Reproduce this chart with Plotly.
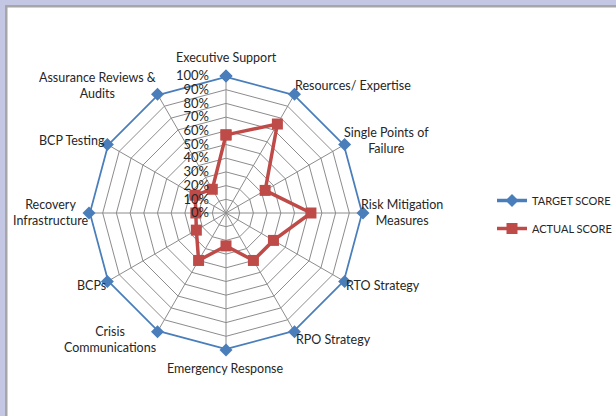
import plotly.graph_objects as go

categories = ["Executive Support", "Resources/ Expertise", "Single Points of Failure",
              "Risk Mitigation Measures", "RTO Strategy", "RPO Strategy",
              "Emergency Response", "Crisis Communications", "BCPs",
              "Recovery Infrastructure", "BCP Testing", "Assurance Reviews & Audits"]
category_labels = ["Executive Support", "Resources/ Expertise", "Single Points of<br>Failure",
                   "Risk Mitigation<br>Measures", "RTO Strategy", "RPO Strategy",
                   "Emergency Response", "Crisis<br>Communications", "BCPs",
                   "Recovery<br>Infrastructure", "BCP Testing", "Assurance Reviews &<br>Audits"]
target_score = [1.0] * 12
actual_score = [0.57, 0.75, 0.33, 0.62, 0.40, 0.40, 0.24, 0.40, 0.25, 0.22, 0.26, 0.20]
radial_ticks = [0, 0.1, 0.2, 0.3, 0.4, 0.5, 0.6, 0.7, 0.8, 0.9, 1.0]

BLUE = "#4A7EBB"
RED = "#BE4B48"
FONT = "Lato"
TXT = "#262626"

def closed(v):
    return list(v) + [v[0]]

fig = go.Figure()
fig.add_trace(go.Scatterpolar(
    r=closed(target_score), theta=closed(categories), name="TARGET SCORE",
    mode="lines+markers", line=dict(color=BLUE, width=3.5),
    marker=dict(symbol="diamond", size=10, color=BLUE), legendgroup="a"))
fig.add_trace(go.Scatterpolar(
    r=closed(actual_score), theta=closed(categories), name="ACTUAL SCORE",
    mode="lines+markers", line=dict(color=RED, width=3.5),
    marker=dict(symbol="square", size=11, color=RED), legendgroup="b"))

W, H = 616, 416
cx, cy, R = 226, 213, 137

# label placement (pixel anchor, alignment) per category
label_pos = [
    (226, 57, "center"), (293, 86, "left"), (386, 140, "center"),
    (402, 213, "center"), (344, 285, "left"), (294, 339, "left"),
    (225, 368, "center"), (110, 339, "center"), (108, 285, "right"),
    (50, 213, "center"), (107, 140, "right"), (97, 86, "center"),
]
annotations = []
for text, (px, py, al) in zip(category_labels, label_pos):
    annotations.append(dict(
        text=text, x=px / W, y=1 - py / H, xref="paper", yref="paper",
        xanchor=al, yanchor="middle", align="center", showarrow=False,
        font=dict(family=FONT, size=12.5, color=TXT)))

fig.update_layout(
    width=W, height=H, margin=dict(l=0, r=0, t=0, b=0, autoexpand=False),
    paper_bgcolor="white", plot_bgcolor="white",
    font=dict(family=FONT, size=12, color=TXT),
    polar=dict(
        domain=dict(x=[(cx - R) / W, (cx + R) / W], y=[(H - cy - R) / H, (H - cy + R) / H]),
        bgcolor="white", gridshape="linear",
        angularaxis=dict(type="category", direction="clockwise", rotation=90,
                         showgrid=True, gridcolor="#8C8C8C", gridwidth=1,
                         showline=False, ticks="", showticklabels=False),
        radialaxis=dict(range=[0, 1], tickvals=radial_ticks, tickformat=".0%",
                        angle=90, tickangle=90, side="counterclockwise",
                        showline=False, ticks="outside", ticklen=12,
                        tickcolor="rgba(0,0,0,0)", gridcolor="#8C8C8C", gridwidth=1,
                        tickfont=dict(size=13, color=TXT)),
    ),
    legend=dict(x=492 / W, y=1 - 186 / H, xanchor="left", yanchor="top",
                font=dict(size=11, color=TXT), tracegroupgap=9,
                bgcolor="rgba(0,0,0,0)"),
    annotations=annotations,
    shapes=[
        dict(type="rect", xref="paper", yref="paper", x0=0, x1=1, y0=1 - 5 / H, y1=1,
             fillcolor="#C3C7E3", line=dict(width=0), layer="above"),
        dict(type="rect", xref="paper", yref="paper", x0=0, x1=5 / W, y0=0, y1=1,
             fillcolor="#C3C7E3", line=dict(width=0), layer="above"),
        dict(type="rect", xref="paper", yref="paper", x0=5 / W, x1=1, y0=1 - 7.5 / H, y1=1 - 5 / H,
             fillcolor="#A6A6A6", line=dict(width=0), layer="above"),
        dict(type="rect", xref="paper", yref="paper", x0=5 / W, x1=7.5 / W, y0=0, y1=1 - 5 / H,
             fillcolor="#A6A6A6", line=dict(width=0), layer="above"),
    ],
)
fig.write_html("out.html", config={"displayModeBar": False},
               post_script="document.body.style.margin='0';document.body.style.overflow='hidden';")
